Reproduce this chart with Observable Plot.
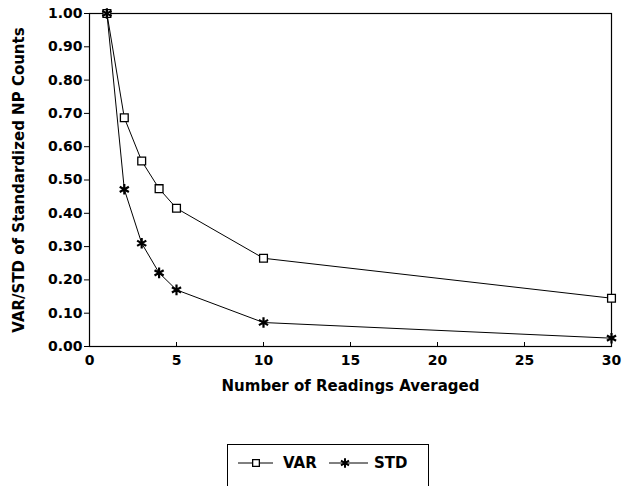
<!DOCTYPE html>
<html>
<head>
<meta charset="utf-8">
<script src="https://cdn.jsdelivr.net/npm/d3@7"></script>
<script src="https://cdn.jsdelivr.net/npm/@observablehq/plot@0.6"></script>
<style>
  html, body { margin: 0; padding: 0; background: #fff; }
  body { width: 624px; height: 486px; overflow: hidden; font-family: "DejaVu Sans", sans-serif; }
  #legend { position: absolute; left: 227px; top: 444px; width: 202px; height: 50px; border: 1.5px solid #000; box-sizing: border-box; }
  #chart g[aria-label="y-axis label"] text, #chart g[aria-label="x-axis label"] text { font-size: 15px; }
</style>
</head>
<body>
<div id="chart"></div>
<div id="legend"></div>
<script>
const readings = [1, 2, 3, 4, 5, 10, 30];
const varValues = [1.00, 0.687, 0.557, 0.474, 0.415, 0.265, 0.145];
const stdValues = [1.00, 0.472, 0.310, 0.221, 0.170, 0.072, 0.025];
const seriesNames = ["VAR", "STD"];
const xTicks = [0, 5, 10, 15, 20, 25, 30];
const yTicks = [0, 0.1, 0.2, 0.3, 0.4, 0.5, 0.6, 0.7, 0.8, 0.9, 1.0];

const varData = readings.map((x, i) => ({x, y: varValues[i]}));
const stdData = readings.map((x, i) => ({x, y: stdValues[i]}));

const font = "'DejaVu Sans', sans-serif";

const plot = Plot.plot({
  width: 624,
  height: 400,
  marginTop: 13,
  marginBottom: 54,
  marginLeft: 89,
  marginRight: 13,
  style: {fontFamily: font, fontSize: "14px", fontWeight: "bold", color: "#000", background: "#fff"},
  x: {domain: [0, 30]},
  y: {domain: [0, 1]},
  marks: [
    Plot.frame({stroke: "#000", strokeWidth: 1.2}),
    Plot.axisY({ticks: yTicks, tickFormat: d3.format(".2f"), tickSize: 5, tickPadding: 2, fontSize: 14, label: "VAR/STD of Standardized NP Counts", labelAnchor: "center", labelArrow: "none", labelOffset: 76}),
    Plot.axisX({ticks: xTicks, tickFormat: d3.format("d"), tickSize: 0, tickPadding: 9, fontSize: 14, label: "Number of Readings Averaged", labelAnchor: "center", labelArrow: "none", labelOffset: 44}),
    Plot.ruleX(xTicks, {x: d => d, insetTop: 329, stroke: "#000"}),
    Plot.line(varData, {x: "x", y: "y", stroke: "#000", strokeWidth: 1}),
    Plot.line(stdData, {x: "x", y: "y", stroke: "#000", strokeWidth: 1}),
    Plot.dot(varData, {x: "x", y: "y", symbol: "square", r: 4.4, fill: "#fff", stroke: "#000", strokeWidth: 1.3}),
    Plot.dot(stdData, {x: "x", y: "y", symbol: "asterisk", r: 5, stroke: "#000", strokeWidth: 2.2})
  ]
});
document.getElementById("chart").appendChild(plot);

// legend
const lg = d3.select("#legend").append("svg").attr("width", 202).attr("height", 50)
  .style("font-family", font).style("font-size", "15px").style("font-weight", "bold");
const items = [
  {name: seriesNames[0], symbol: d3.symbolSquare, fill: "#fff", x0: 10, len: 35, sx: 18, sw: 1.3},
  {name: seriesNames[1], symbol: d3.symbolAsterisk, fill: "none", x0: 101, len: 39, sx: 16, sw: 2}
];
items.forEach(it => {
  const g = lg.append("g").attr("transform", `translate(${it.x0},18)`);
  g.append("line").attr("x1", 0).attr("x2", it.len).attr("stroke", "#000").attr("stroke-width", 1);
  g.append("path").attr("d", d3.symbol(it.symbol, it.symbol === d3.symbolSquare ? 45 : 60)())
    .attr("transform", `translate(${it.sx},0)`).attr("fill", it.fill).attr("stroke", "#000").attr("stroke-width", it.sw);
  g.append("text").attr("x", 45).attr("y", 0).attr("dy", "0.36em").text(it.name);
});
</script>
</body>
</html>
